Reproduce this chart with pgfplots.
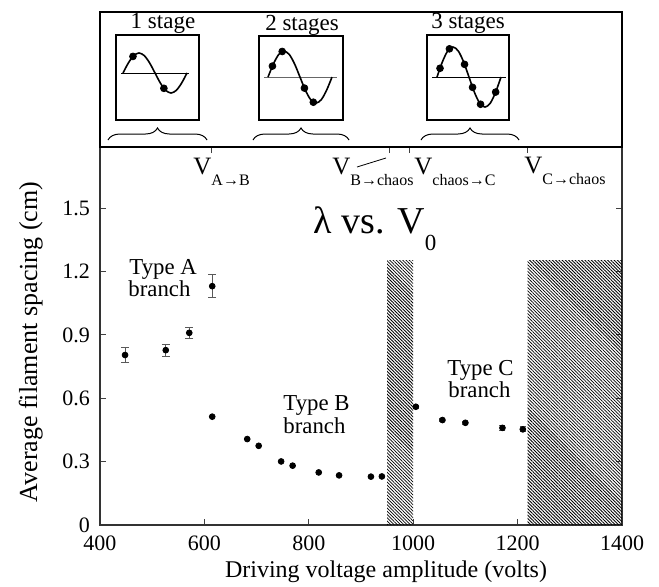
\documentclass[border=0pt]{standalone}
\usepackage{fontspec}
\setmainfont{Liberation Serif}
\usepackage{pgfplots}
\usepackage{pgfplotstable}
\pgfplotsset{compat=1.18}
\usetikzlibrary{patterns.meta,decorations.pathreplacing}

% one period of the driving voltage, used in the three insets
\pgfplotstableread{
ph  v
0   0
30  0.5
60  0.866
90  1
120 0.866
150 0.5
180 0
210 -0.5
240 -0.866
270 -1
300 -0.866
330 -0.5
360 0
}\sinetab

\pgfplotsset{inset/.style={
  anchor=south west, scale only axis, ticks=none,
  axis line style={black, line width=0.6pt}}}

\begin{document}
\begin{tikzpicture}
\useasboundingbox (0,0) rectangle (329.5pt,293pt);

% main panel
\begin{axis}[
  at={(50pt,30.5pt)}, anchor=south west,
  width=261pt, height=189pt, scale only axis,
  xmin=400, xmax=1400, ymin=0, ymax=1.79,
  xtick={400,600,800,1000,1200,1400},
  ytick={0,0.3,0.6,0.9,1.2,1.5},
  xtick pos=left, yticklabel pos=left,
  tick align=inside, major tick length=3pt,
  /pgf/number format/assume math mode=true,
  /pgf/number format/1000 sep={},
  ticklabel style={font=\fontsize{11}{11}\selectfont},
  xticklabel style={yshift=-2pt},
  yticklabel style={xshift=-1.5pt},
  axis line style={black!80, line width=0.6pt},
  tick style={black!75, line width=0.5pt},
]
\addplot[draw=none, pattern={Lines[angle=-45,distance=1.15pt,line width=0.4pt]}]
  coordinates {(950,0)(950,1.254)(1000,1.254)(1000,0)} \closedcycle;
\addplot[draw=none, pattern={Lines[angle=-45,distance=1.15pt,line width=0.4pt]}]
  coordinates {(1219,0)(1219,1.254)(1400,1.254)(1400,0)} \closedcycle;
% type A
\addplot[only marks, mark=*, mark size=1.45pt, black,
  error bars/.cd, y dir=both, y explicit,
  error bar style={black!65, line width=0.5pt},
  error mark options={rotate=90, black!65, mark size=2pt, line width=0.5pt}]
  coordinates {
  (448,0.805) +- (0,0.035)
  (526,0.828) +- (0,0.028)
  (571,0.910) +- (0,0.025)
  (615,1.131) +- (0,0.054)
};
% type B
\addplot[only marks, mark=*, mark size=1.45pt, black] coordinates {
  (615,0.513) (682,0.407) (704,0.375) (747,0.301) (769,0.281)
  (819,0.249) (858,0.235) (919,0.229) (940,0.230)
};
% type C
\addplot[only marks, mark=*, mark size=1.45pt, black,
  error bars/.cd, y dir=both, y explicit,
  error bar style={black!65, line width=0.5pt},
  error mark options={rotate=90, black!65, mark size=1.5pt, line width=0.5pt}]
  coordinates {
  (1005,0.560) +- (0,0.008)
  (1056,0.497) +- (0,0.008)
  (1100,0.484) +- (0,0.006)
  (1171,0.460) +- (0,0.012)
  (1210,0.453) +- (0,0.012)
};
\end{axis}

% upper panel with the transition voltages
\begin{axis}[
  at={(50pt,219.5pt)}, anchor=south west,
  width=261pt, height=67.5pt, scale only axis,
  xmin=400, xmax=1400, ymin=0, ymax=1,
  xtick={614,954,993,1218}, xticklabels={}, ytick=\empty,
  xtick pos=left, tick align=outside, major tick length=3pt,
  axis line style={black, line width=0.7pt},
  tick style={black!75, line width=0.5pt},
]
\end{axis}

% insets
\begin{axis}[inset, at={(58pt,233pt)}, width=41.5pt, height=42.5pt,
  xmin=-39.4, xmax=427.5, ymin=-2.35, ymax=1.9]
\addplot[black, line width=0.4pt] coordinates {(-11,0)(371,0)};
\addplot[black, line width=0.8pt, smooth] table[x=ph, y=v] {\sinetab};
\addplot[only marks, mark=*, mark size=1.7pt, black] coordinates {(56,0.829)(230,-0.766)};
\end{axis}
\begin{axis}[inset, at={(129.5pt,233pt)}, width=42pt, height=42pt,
  xmin=-50.6, xmax=421.9, ymin=-1.65, ymax=1.58]
\addplot[black!60, line width=0.4pt] coordinates {(-22,0)(388,0)};
\addplot[black, line width=0.8pt, smooth] table[x=ph, y=v] {\sinetab};
\addplot[only marks, mark=*, mark size=1.7pt, black] coordinates {(25,0.423)(80,0.985)(205,-0.423)(255,-0.966)};
\end{axis}
\begin{axis}[inset, at={(213.5pt,233pt)}, width=41pt, height=42.5pt,
  xmin=-56.2, xmax=405, ymin=-1.43, ymax=1.4]
\addplot[black, line width=0.4pt] coordinates {(-28,0)(388,0)};
\addplot[black, line width=0.8pt, smooth] table[x=ph, y=v] {\sinetab};
\addplot[only marks, mark=*, mark size=1.7pt, black] coordinates {(17,0.292)(70,0.940)(155,0.423)(200,-0.342)(245,-0.906)(330,-0.5)};
\end{axis}

\begin{scope}[x=0.5pt, y=0.5pt]
\begin{scope}[font=\fontsize{11.5}{11.5}\selectfont]
\node[anchor=base] at (163,558) {1 stage};
\node[anchor=base] at (302,556) {2 stages};
\node[anchor=base] at (468,558) {3 stages};
\end{scope}

\draw[decorate, decoration={brace, amplitude=6pt}, line width=0.5pt] (108,446) -- (207,446);
\draw[decorate, decoration={brace, amplitude=6pt}, line width=0.5pt] (253,446) -- (349,446);
\draw[decorate, decoration={brace, amplitude=6pt}, line width=0.5pt] (421,446) -- (519,446);

% transition labels
\newcommand{\Vlab}[1]{{\fontsize{12.5}{12.5}\selectfont V}\raisebox{-5.5pt}{\fontsize{8}{8}\selectfont #1}}
\node[anchor=base west, inner sep=0pt] at (193,412) {\Vlab{A→B}};
\node[anchor=base west, inner sep=0pt] at (332,412) {\Vlab{B→chaos}};
\node[anchor=base west, inner sep=0pt] at (414,412) {\Vlab{chaos→C}};
\node[anchor=base west, inner sep=0pt] at (524,413) {\Vlab{C→chaos}};
\draw[line width=0.4pt] (357,419) -- (386,428);

% annotations
\node[anchor=base, inner sep=0pt] at (375,353)
  {\fontsize{19}{19}\selectfont λ vs. V\raisebox{-8.5pt}{\fontsize{11.5}{11.5}\selectfont 0}};
\begin{scope}[font=\fontsize{11.4}{11.4}\selectfont, inner sep=0pt]
\node[anchor=base west] at (129,312) {Type A};
\node[anchor=base west] at (128,290) {branch};
\node[anchor=base west] at (283,176) {Type B};
\node[anchor=base west] at (283,153) {branch};
\node[anchor=base west] at (447,211) {Type C};
\node[anchor=base west] at (448,189) {branch};
\end{scope}

% axis titles
\node[rotate=90, anchor=base, font=\fontsize{13}{13}\selectfont] at (37,244)
  {Average filament spacing (cm)};
\node[anchor=base, font=\fontsize{12}{12}\selectfont] at (386,9)
  {Driving voltage amplitude (volts)};
\end{scope}
\end{tikzpicture}
\end{document}
